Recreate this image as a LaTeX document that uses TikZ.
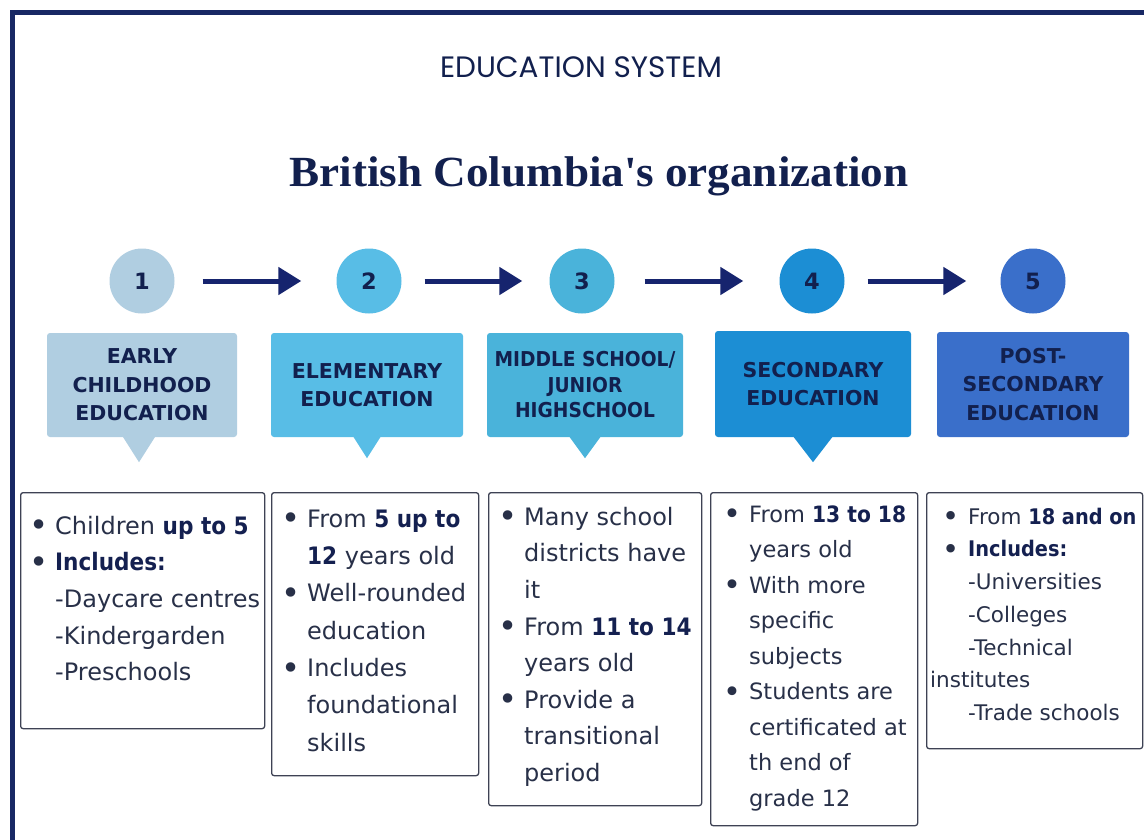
\documentclass[tikz,border=0pt]{standalone}
\usepackage{fontspec}
\setmainfont{DejaVu Sans}[BoldFeatures={FakeStretch=0.9}]
\newfontfamily\headfont{DejaVu Sans}
\newfontfamily\headnarrow{DejaVu Sans}[FakeStretch=0.91]
\newfontfamily\titlefont{Liberation Serif}[FakeStretch=1.05]
\newfontfamily\kickerfont{Poppins}
\usetikzlibrary{arrows.meta}

% palette
\definecolor{framec}{RGB}{24,40,100}
\definecolor{ink}{RGB}{18,32,78}
\definecolor{bodyc}{RGB}{40,48,72}
\definecolor{boldc}{RGB}{20,32,80}
\definecolor{edgec}{RGB}{62,66,84}
\definecolor{arrowc}{RGB}{22,36,110}
\definecolor{sA}{RGB}{176,206,225}
\definecolor{sB}{RGB}{88,189,230}
\definecolor{sC}{RGB}{74,179,218}
\definecolor{sD}{RGB}{28,142,212}
\definecolor{sE}{RGB}{58,111,202}

% list helpers
\newcommand\itm{\makebox[26pt][l]{\raisebox{-0.11em}{\scalebox{1.35}{•}}}}
\newcommand\sub{\hspace*{26pt}}
\newcommand\hl[1]{{\bfseries\color{boldc}#1}}

\tikzset{
  stage/.style={circle, minimum size=65pt, inner sep=0pt, fill=#1,
    text=ink, font=\headfont\bfseries\fontsize{22.5}{22.5}\selectfont},
  banner/.style={rectangle, rounded corners=3pt, inner sep=0pt, fill=#1,
    align=center, text=ink, font=\headfont\bfseries\fontsize{20.5}{28.5}\selectfont},
  panel/.style={draw=edgec, line width=1.3pt, rounded corners=2.5pt,
    inner sep=0pt, anchor=north west},
  listtext/.style={inner sep=0pt, anchor=north west, align=left, text=bodyc},
  flow/.style={line width=5pt, draw=arrowc, -{Triangle[length=23pt,width=27pt]}}
}

\begin{document}
\begin{tikzpicture}[x=1pt, y=-1pt]
\path[use as bounding box, fill=white] (0,0) rectangle (1144,839);

% outer frame
\draw[framec, line width=4.5pt] (12.5,12.5) rectangle (1170,870);

% headings
\node[anchor=base, text=ink, font=\kickerfont\fontsize{29.5}{29.5}\selectfont]
  (kicker) at (581,77) {EDUCATION SYSTEM};
\node[anchor=base, text=ink, font=\titlefont\bfseries\fontsize{43}{43}\selectfont]
  (title) at (599,186) {British Columbia\textquotesingle s organization};

% stage circles
\node[stage=sA] (n1) at (142,281) {1};
\node[stage=sB] (n2) at (369,281) {2};
\node[stage=sC] (n3) at (582,281) {3};
\node[stage=sD] (n4) at (812,281) {4};
\node[stage=sE] (n5) at (1033,281) {5};

\draw[flow, shorten <=28pt, shorten >=35pt] (n1) -- (n2);
\draw[flow, shorten <=23pt, shorten >=27pt] (n2) -- (n3);
\draw[flow, shorten <=30pt, shorten >=36pt] (n3) -- (n4);
\draw[flow, shorten <=23pt, shorten >=34pt] (n4) -- (n5);

% banners with pointers
\node[banner=sA, minimum width=190pt, minimum height=104pt] (b1) at (142,385)
  {EARLY\\CHILDHOOD\\EDUCATION};
\node[banner=sB, minimum width=192pt, minimum height=104pt] (b2) at (367,385)
  {ELEMENTARY\\EDUCATION};
\node[banner=sC, minimum width=196pt, minimum height=104pt,
  font=\headnarrow\bfseries\fontsize{20.5}{25.5}\selectfont] (b3) at (585,385)
  {MIDDLE SCHOOL/\\JUNIOR\\HIGHSCHOOL};
\node[banner=sD, minimum width=196pt, minimum height=106pt] (b4) at (813,384)
  {SECONDARY\\EDUCATION};
\node[banner=sE, minimum width=192pt, minimum height=105pt] (b5) at (1033,384.5)
  {POST-\\SECONDARY\\EDUCATION};

\fill[sA] ([xshift=-19.5pt,yshift=1pt]b1.south) -- ([xshift=13.5pt,yshift=1pt]b1.south)
  -- ([xshift=-3pt,yshift=-25pt]b1.south) -- cycle;
\fill[sB] ([xshift=-14pt,yshift=1pt]b2.south) -- ([xshift=14pt,yshift=1pt]b2.south)
  -- ([yshift=-21pt]b2.south) -- cycle;
\fill[sC] ([xshift=-16pt,yshift=1pt]b3.south) -- ([xshift=16pt,yshift=1pt]b3.south)
  -- ([yshift=-21pt]b3.south) -- cycle;
\fill[sD] ([xshift=-20pt,yshift=1pt]b4.south) -- ([xshift=20pt,yshift=1pt]b4.south)
  -- ([yshift=-25pt]b4.south) -- cycle;

% detail panels
\node[panel, minimum width=244pt, minimum height=236pt] (p1) at (20,492) {};
\node[panel, minimum width=207pt, minimum height=283pt] (p2) at (271,492) {};
\node[panel, minimum width=213pt, minimum height=313pt] (p3) at (488,492) {};
\node[panel, minimum width=207pt, minimum height=333pt] (p4) at (710,492) {};
\node[panel, minimum width=216pt, minimum height=256pt] (p5) at (926,492) {};

\node[listtext, font=\fontsize{24}{36.7}\selectfont] (t1) at (29,508.3)
  {\strut\itm Children \hl{up to 5}\\
   \itm \hl{Includes:}\\
   \sub -Daycare centres\\
   \sub -Kindergarden\\
   \sub -Preschools};

\node[listtext, font=\fontsize{24}{37.3}\selectfont] (t2) at (281,500.9)
  {\strut\itm From \hl{5 up to}\\
   \sub \hl{12} years old\\
   \itm Well-rounded\\
   \sub education\\
   \itm Includes\\
   \sub foundational\\
   \sub skills};

\node[listtext, font=\fontsize{24}{36.6}\selectfont] (t3) at (498,499.4)
  {\strut\itm Many school\\
   \sub districts have\\
   \sub it\\
   \itm From \hl{11 to 14}\\
   \sub years old\\
   \itm Provide a\\
   \sub transitional\\
   \sub period};

\node[listtext, font=\fontsize{22.5}{35.5}\selectfont] (t4) at (723,497)
  {\strut\itm From \hl{13 to 18}\\
   \sub years old\\
   \itm With more\\
   \sub specific\\
   \sub subjects\\
   \itm Students are\\
   \sub certificated at\\
   \sub th end of\\
   \sub grade 12};

\node[listtext, font=\fontsize{21.5}{32.7}\selectfont] (t5) at (942,501.1)
  {\strut\itm From \hl{18 and on}\\
   \itm \hl{Includes:}\\
   \sub -Universities\\
   \sub -Colleges\\
   \sub -Technical\\
   \hspace*{-12pt}institutes\\
   \sub -Trade schools};
\end{tikzpicture}
\end{document}
